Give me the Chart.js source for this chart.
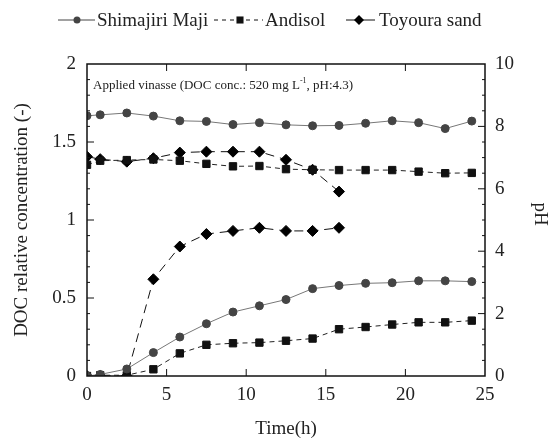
<!DOCTYPE html>
<html lang="en">

<head>
    <meta charset="UTF-8">
    <title>DOC and pH</title>
    <script src="https://cdn.jsdelivr.net/npm/chart.js"></script>
    <style>
        html, body { margin: 0; padding: 0; background: #fff; }
        #wrap { width: 551px; height: 441px; }
    </style>
</head>

<body>
    <div id="wrap"><canvas id="chart"></canvas></div>

    <script>
        // sampling times (h)
        let time = [0, 0.83, 2.5, 4.17, 5.83, 7.5, 9.17, 10.83, 12.5, 14.17, 15.83, 17.5, 19.17, 20.83, 22.5, 24.17];

        // DOC relative concentration (-)
        let shimaDoc = [0, 0.01, 0.045, 0.15, 0.25, 0.335, 0.41, 0.45, 0.49, 0.56, 0.58, 0.594, 0.598, 0.61, 0.61, 0.605];
        let andiDoc = [0, 0.005, 0.005, 0.043, 0.145, 0.2, 0.21, 0.214, 0.226, 0.24, 0.30, 0.314, 0.33, 0.344, 0.344, 0.355];
        let toyoDoc = [0, 0, 0, 0.62, 0.83, 0.91, 0.93, 0.95, 0.93, 0.93, 0.95];

        // pH
        let shimaPh = [8.34, 8.37, 8.43, 8.33, 8.18, 8.16, 8.06, 8.12, 8.05, 8.02, 8.03, 8.10, 8.18, 8.12, 7.93, 8.17];
        let andiPh = [6.77, 6.90, 6.92, 6.94, 6.90, 6.80, 6.72, 6.73, 6.63, 6.61, 6.60, 6.60, 6.60, 6.55, 6.50, 6.51];
        let toyoPh = [7.03, 6.95, 6.87, 6.98, 7.16, 7.19, 7.19, 7.19, 6.93, 6.61, 5.91];

        let seriesNames = ["Shimajiri Maji", "Andisol", "Toyoura sand"];

        const FONT = "'Liberation Serif', 'DejaVu Serif', serif";
        const INK = "#222";

        function pts(vals) {
            return vals.map((v, i) => ({ x: time[i], y: v }));
        }

        let styles = [
            { line: "#777", fill: "#444", shape: "circle", r: 4, dash: [] },
            { line: "#222", fill: "#111", shape: "rect", r: 5.2, dash: [5, 4] },
            { line: "#111", fill: "#000", shape: "rectRot", r: 5.5, dash: [9, 6] }
        ];

        function makeSet(name, vals, st, axis) {
            return {
                label: name,
                data: pts(vals),
                yAxisID: axis,
                showLine: true,
                borderColor: st.line,
                borderWidth: 1,
                borderDash: st.dash,
                pointStyle: st.shape,
                pointRadius: st.r,
                pointBackgroundColor: st.fill,
                pointBorderColor: st.fill,
                pointBorderWidth: 1,
                tension: 0
            };
        }

        // frame, inward ticks, annotation, legend, right title
        const decorations = {
            id: "decorations",
            afterDraw(chart) {
                let ctx = chart.ctx;
                let a = chart.chartArea;
                let sx = chart.scales.x, sy = chart.scales.y, sy2 = chart.scales.y2;
                ctx.save();
                ctx.strokeStyle = "#111";
                ctx.lineWidth = 1.5;
                ctx.strokeRect(a.left, a.top, a.right - a.left, a.bottom - a.top);

                ctx.lineWidth = 1;
                ctx.beginPath();
                for (let v = 5; v < 25; v += 5) {
                    let px = sx.getPixelForValue(v);
                    ctx.moveTo(px, a.bottom); ctx.lineTo(px, a.bottom - 7);
                    ctx.moveTo(px, a.top); ctx.lineTo(px, a.top + 7);
                }
                for (let i = 1; i < 20; i++) {
                    let py = sy.getPixelForValue(i / 10);
                    let len = i % 5 === 0 ? 7 : 3;
                    ctx.moveTo(a.left, py); ctx.lineTo(a.left + len, py);
                }
                for (let i = 1; i < 20; i++) {
                    let py = sy2.getPixelForValue(i / 2);
                    let len = i % 4 === 0 ? 7 : 3;
                    ctx.moveTo(a.right, py); ctx.lineTo(a.right - len, py);
                }
                ctx.stroke();

                // annotation text
                ctx.fillStyle = INK;
                ctx.textBaseline = "alphabetic";
                ctx.textAlign = "left";
                ctx.font = "13px " + FONT;
                let tx = a.left + 6, ty = a.top + 25;
                let s1 = "Applied vinasse (DOC conc.: 520 mg L";
                ctx.fillText(s1, tx, ty);
                tx += ctx.measureText(s1).width;
                ctx.font = "8px " + FONT;
                ctx.fillText("-1", tx, ty - 6);
                tx += ctx.measureText("-1").width;
                ctx.font = "13px " + FONT;
                ctx.fillText(", pH:4.3)", tx, ty);

                // legend
                let legendY = 20;
                let items = [
                    { x0: 58, x1: 95, mx: 77, tx: 97 },
                    { x0: 214, x1: 263, mx: 240, tx: 265 },
                    { x0: 346, x1: 375, mx: 359, tx: 379 }
                ];
                items.forEach((it, i) => {
                    let st = styles[i];
                    ctx.strokeStyle = i === 0 ? "#444" : "#111";
                    ctx.lineWidth = 1;
                    ctx.setLineDash(i === 1 ? [4, 4] : []);
                    ctx.beginPath();
                    ctx.moveTo(it.x0, legendY); ctx.lineTo(it.x1, legendY);
                    ctx.stroke();
                    ctx.setLineDash([]);
                    ctx.fillStyle = st.fill;
                    Chart.helpers.drawPoint(ctx, { pointStyle: st.shape, radius: i === 0 ? 3.5 : 5, borderWidth: 0 }, it.mx, legendY);
                    ctx.fillStyle = INK;
                    ctx.font = "19px " + FONT;
                    ctx.textBaseline = "middle";
                    ctx.fillText(seriesNames[i], it.tx, legendY + 1);
                });

                // right axis title, reading top to bottom
                ctx.translate(540, 214);
                ctx.rotate(Math.PI / 2);
                ctx.textAlign = "center";
                ctx.textBaseline = "middle";
                ctx.font = "19px " + FONT;
                ctx.fillText("pH", 0, 0);
                ctx.restore();
            }
        };

        function plain(v) {
            return String(Math.round(v * 10) / 10);
        }

        let ctx = document.getElementById("chart").getContext("2d");
        new Chart(ctx, {
            type: "scatter",
            data: {
                datasets: [
                    makeSet(seriesNames[0], shimaDoc, styles[0], "y"),
                    makeSet(seriesNames[1], andiDoc, styles[1], "y"),
                    makeSet(seriesNames[2], toyoDoc, styles[2], "y"),
                    makeSet(seriesNames[0] + " pH", shimaPh, styles[0], "y2"),
                    makeSet(seriesNames[1] + " pH", andiPh, styles[1], "y2"),
                    makeSet(seriesNames[2] + " pH", toyoPh, styles[2], "y2")
                ]
            },
            options: {
                responsive: true,
                maintainAspectRatio: false,
                animation: false,
                layout: { padding: { top: 64, left: 0, right: 0, bottom: 0 } },
                plugins: {
                    legend: { display: false },
                    tooltip: { enabled: false }
                },
                scales: {
                    x: {
                        type: "linear",
                        min: 0,
                        max: 25,
                        ticks: { stepSize: 5, padding: 8, color: INK, font: { family: FONT, size: 19 }, callback: plain },
                        grid: { display: false, drawTicks: false },
                        border: { display: false },
                        title: { display: true, text: "Time(h)", color: INK, padding: { top: 0, bottom: 1 }, font: { family: FONT, size: 19 } },
                        afterFit(s) { s.height = 65; }
                    },
                    y: {
                        position: "left",
                        min: 0,
                        max: 2,
                        ticks: { stepSize: 0.5, padding: 11, color: INK, font: { family: FONT, size: 19 }, callback: plain },
                        grid: { display: false, drawTicks: false },
                        border: { display: false },
                        title: { display: true, text: "DOC relative concentration (-)", color: INK, padding: { top: 11, bottom: 0 }, font: { family: FONT, size: 19 } },
                        afterFit(s) { s.width = 87; }
                    },
                    y2: {
                        position: "right",
                        min: 0,
                        max: 10,
                        ticks: { stepSize: 2, padding: 10, color: INK, font: { family: FONT, size: 19 }, callback: plain },
                        grid: { display: false, drawTicks: false },
                        border: { display: false },
                        afterFit(s) { s.width = 66; }
                    }
                }
            },
            plugins: [decorations]
        });
    </script>

</body>

</html>
